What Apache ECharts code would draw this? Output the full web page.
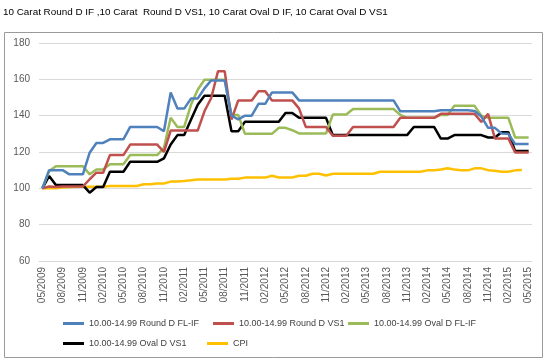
<!DOCTYPE html>
<html><head><meta charset="utf-8">
<script src="https://cdn.jsdelivr.net/npm/echarts@6/dist/echarts.min.js"></script>
<style>html,body{margin:0;padding:0;background:#fff}#c{width:548px;height:364px}</style>
</head><body><div id="c"></div>
<script>
var titleText = '10 Carat Round D IF ,10 Carat  Round D VS1, 10 Carat Oval D IF, 10 Carat Oval D VS1';
var categories = [
'05/2009','06/2009','07/2009','08/2009','09/2009','10/2009','11/2009','12/2009',
'01/2010','02/2010','03/2010','04/2010','05/2010','06/2010','07/2010','08/2010','09/2010','10/2010','11/2010','12/2010',
'01/2011','02/2011','03/2011','04/2011','05/2011','06/2011','07/2011','08/2011','09/2011','10/2011','11/2011','12/2011',
'01/2012','02/2012','03/2012','04/2012','05/2012','06/2012','07/2012','08/2012','09/2012','10/2012','11/2012','12/2012',
'01/2013','02/2013','03/2013','04/2013','05/2013','06/2013','07/2013','08/2013','09/2013','10/2013','11/2013','12/2013',
'01/2014','02/2014','03/2014','04/2014','05/2014','06/2014','07/2014','08/2014','09/2014','10/2014','11/2014','12/2014',
'01/2015','02/2015','03/2015','04/2015','05/2015'];
var seriesNames = ['10.00-14.99 Round D FL-IF','10.00-14.99 Round D VS1','10.00-14.99 Oval D FL-IF','10.00-14.99 Oval D VS1','CPI'];
var roundIF = [100,110,110,110,107.7,107.7,107.7,119.6,125,125,127,127,127,133.8,133.8,133.8,133.8,133.8,131.4,152.8,
143.9,143.9,149.4,149.4,155,159.4,159.4,159.4,140,138,140,140,146.5,146.5,152.8,152.8,152.8,152.8,148.4,148.4,
148.4,148.4,148.4,148.4,148.4,148.4,148.4,148.4,148.4,148.4,148.4,148.4,148.4,142.4,142.4,142.4,142.4,142.4,142.4,143,
143,143,143,143,142.6,139.5,133.3,133.3,130.2,130,124.4,124.4,124.4];
var roundVS1 = [100,101,100.7,101,101,101,101,105,108.6,108.6,118.3,118.3,118.3,124.1,124.1,124.1,124.1,124.1,120,131.8,
131.8,131.8,131.8,131.8,142.4,149.7,164.4,164.4,137.8,148.4,148.4,148.4,153.5,153.5,148.4,148.4,148.4,148.4,144,133.8,
133.8,133.8,133.8,129,129,129,133.8,133.8,133.8,133.8,133.8,133.8,133.8,138.8,138.8,138.8,138.8,138.8,138.8,141,
141,141,141,141,141,136.5,141,127.5,127.5,127.5,119.7,119.7,119.7];
var ovalIF = [100,109.5,112.2,112.2,112.2,112.2,112.2,107.7,110.4,110.4,113.2,113.2,113.2,118.3,118.3,118.3,118.3,118.3,122.3,138.8,
133.8,133.8,146,154.3,159.8,159.8,159.8,159.8,140.4,140.4,130,130,130,130,130,133.3,133.3,132,130.2,130.2,
130.2,130.2,130.2,140.6,140.6,140.6,143.7,143.7,143.7,143.7,143.7,143.7,143.7,140.4,138.8,138.8,138.8,138.8,138.8,140.4,
140.4,145.4,145.4,145.4,145.4,140,138.8,138.8,138.8,138.8,128,128,128];
var ovalVS1 = [100,106.8,101.8,101.8,101.8,101.8,101.8,97.6,100.7,100.7,109.1,109.1,109.1,114.6,114.6,114.6,114.6,114.6,116.5,124.1,
129.3,129.3,137.8,146,151,151,151,151,131.4,131.4,136.6,136.6,136.6,136.6,136.6,136.6,141.5,141.5,138.8,138.8,
138.8,138.8,138.8,129.3,129.3,129.3,129.3,129.3,129.3,129.3,129.3,129.3,129.3,129.3,129.3,133.8,133.8,133.8,133.8,127.4,
127.4,129.3,129.3,129.3,129.3,129.3,128,128,130.9,130.9,120.5,120.5,120.5];
var cpi = [100,100,100,100.4,100.7,100.9,100.9,100.9,100.9,100.9,101.3,101.3,101.3,101.3,101.3,102.2,102.2,102.7,102.7,103.7,
103.7,104,104.4,104.9,104.9,104.9,104.9,104.9,105.3,105.3,105.9,105.9,105.9,105.9,106.9,106,106,106,106.9,106.9,
108,108,107.1,108,108,108,108,108,108,108,109.1,109.1,109.1,109.1,109.1,109.1,109.1,109.9,109.9,110.4,
111,110.4,109.9,109.9,111,111,110,109.7,109.1,109.1,109.9,110.1,null];
var yTicks = {min: 60, max: 180, interval: 20};
var colors = ['#4F81BD','#C0504D','#9BBB59','#000000','#FFC000'];
var allData = [roundIF, roundVS1, ovalIF, ovalVS1, cpi];

var legendPos = [[63,319],[213,319],[348,319],[63,339],[207,339]];
var chart = echarts.init(document.getElementById('c'), null, {renderer: 'canvas'});
chart.setOption({
  backgroundColor: '#fff',
  animation: false,
  title: {text: titleText, left: 3, top: 7, padding: 0, textStyle: {fontFamily: 'Liberation Sans', fontSize: 9.9, fontWeight: 'normal', color: '#000'}},
  graphic: [{type: 'rect', shape: {x: 4.5, y: 32.5, width: 538, height: 325}, style: {fill: 'none', stroke: '#9a9a9a', lineWidth: 1}, z: -1}],
  legend: seriesNames.map(function (n, i) {
    return {data: [n], left: legendPos[i][0], top: legendPos[i][1], padding: 0, icon: 'rect', itemWidth: 21, itemHeight: 3,
      textStyle: {fontFamily: 'Liberation Sans', fontSize: 9, color: '#404040'}, selectedMode: false};
  }),
  grid: {left: 39, right: 16, top: 43, bottom: 103, containLabel: false},
  xAxis: {type: 'category', data: categories, boundaryGap: true,
    axisLine: {lineStyle: {color: '#d9d9d9'}}, axisTick: {show: false},
    axisLabel: {interval: 2, rotate: 90, fontFamily: 'Liberation Sans', fontSize: 10, color: '#595959', margin: 6}},
  yAxis: {type: 'value', min: yTicks.min, max: yTicks.max, interval: yTicks.interval,
    axisLine: {show: false}, axisTick: {show: false},
    axisLabel: {fontFamily: 'Liberation Sans', fontSize: 10, color: '#595959', margin: 9},
    splitLine: {lineStyle: {color: '#d9d9d9'}}},
  series: seriesNames.map(function (n, i) {
    return {name: n, type: 'line', data: allData[i], symbol: 'none', color: colors[i],
      lineStyle: {width: 2.5, color: colors[i]}, z: 5 - i};
  })
});
</script></body></html>
